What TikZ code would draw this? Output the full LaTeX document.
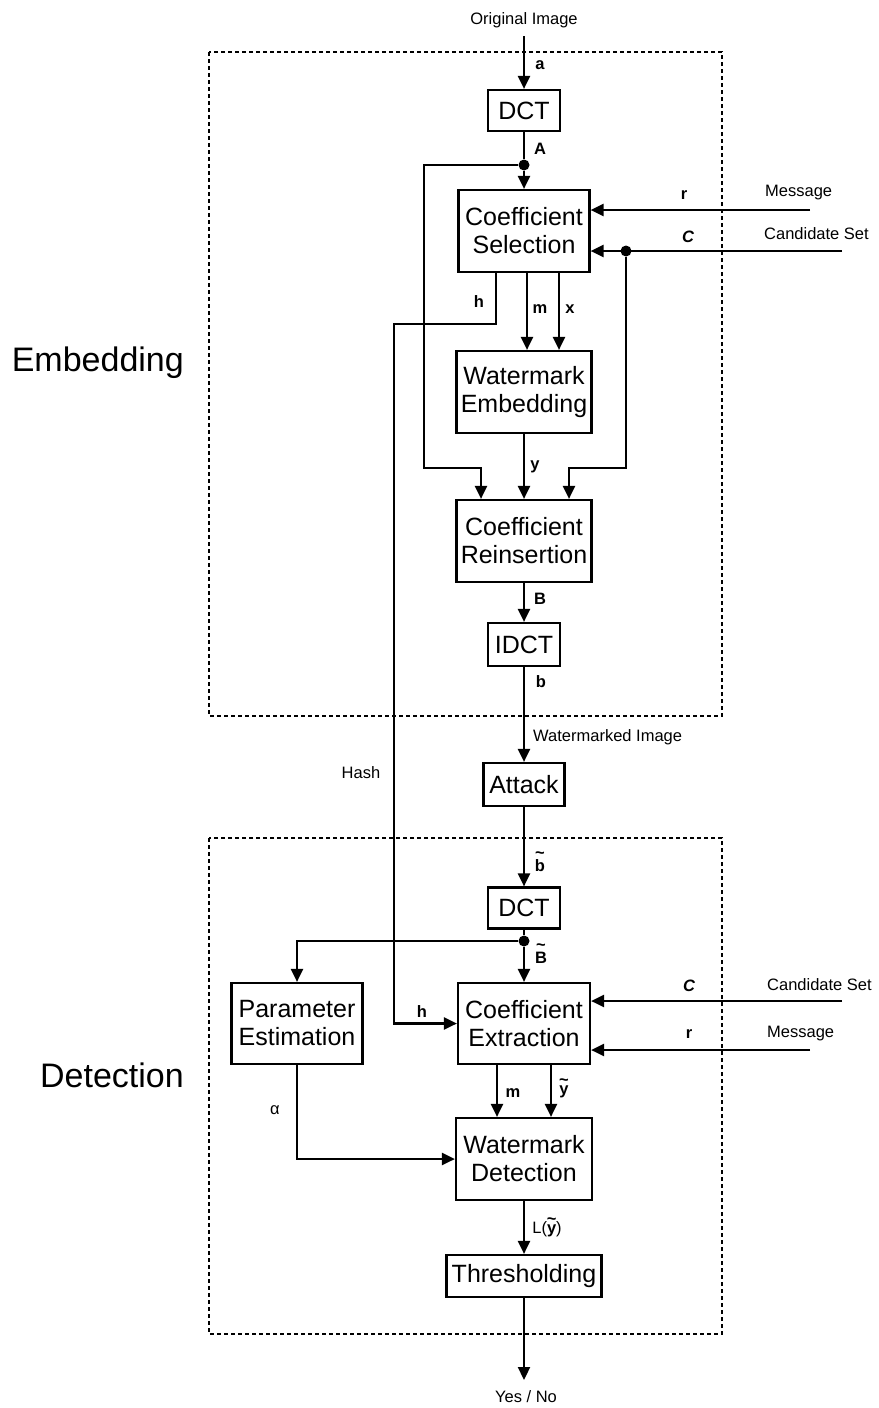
\documentclass[tikz,border=0pt]{standalone}
\usepackage{fontspec}
\setmainfont{Liberation Sans}
\usetikzlibrary{arrows.meta}

% tilde set above a letter, raised by #1
\newcommand{\tld}[2][12.5pt]{\ooalign{#2\cr\hidewidth\raisebox{#1}{\textasciitilde}\hidewidth\cr}}

\tikzset{
  block/.style={draw, line width=2.2pt, rectangle, inner sep=0pt, align=center,
    font=\fontsize{25}{28}\selectfont},
  lbl/.style={font=\fontsize{16.5}{18}\selectfont\bfseries, inner sep=0pt},
  note/.style={font=\fontsize{16.5}{18}\selectfont, inner sep=0pt},
  title/.style={font=\fontsize{34}{36}\selectfont, inner sep=0pt, anchor=east},
  conn/.style={line width=2.2pt},
  arr/.style={conn, -{Triangle[length=13pt,width=12pt]}},
  frame/.style={line width=2pt, dash pattern=on 4pt off 3pt},
  dot/.style={circle, fill, inner sep=0pt, minimum size=11pt},
}

\begin{document}
\begin{tikzpicture}[x=1pt,y=-1pt]
    \useasboundingbox (0,0) rectangle (878,1408);

    % dashed frames and their titles
    \draw[frame] (209,52) rectangle (722,716);
    \draw[frame] (209,838) rectangle (722,1334);
    \node[title] (tEmb) at (184,363) {Embedding};
    \node[title] (tDet) at (184,1075) {Detection};

    % embedding chain
    \node[block, minimum width=72, minimum height=41] (dctA) at (524,110.5) {DCT};
    \node[block, minimum width=131, minimum height=82] (sel) at (524,231) {Coefficient\\Selection};
    \node[block, minimum width=135, minimum height=82] (emb) at (524,392) {Watermark\\Embedding};
    \node[block, minimum width=135, minimum height=82] (reins) at (524,541) {Coefficient\\Reinsertion};
    \node[block, minimum width=72, minimum height=43] (idct) at (524,644.5) {IDCT};
    \node[block, minimum width=81, minimum height=43] (attack) at (524,784.5) {Attack};

    % detection chain
    \node[block, minimum width=72, minimum height=41] (dctB) at (524,908) {DCT};
    \node[block, minimum width=131, minimum height=81] (param) at (297,1023.5) {Parameter\\Estimation};
    \node[block, minimum width=132, minimum height=81] (ext) at (524,1023.5) {Coefficient\\Extraction};
    \node[block, minimum width=136, minimum height=82] (det) at (524,1159) {Watermark\\Detection};
    \node[block, minimum width=155, minimum height=42] (thr) at (524,1276) {Thresholding};

    % junctions and free ends
    \node[dot] (jA) at (524,165) {};
    \node[dot] (jC) at (626,251) {};
    \node[dot] (jB) at (524,941) {};
    \coordinate (inA) at (524,36);
    \coordinate (msgA) at (810,210);
    \coordinate (candA) at (842,251);
    \coordinate (bA) at (424,468);
    \coordinate (bB) at (481,468);
    \coordinate (cR) at (569,468);
    \coordinate (hA) at (496,324);
    \coordinate (hB) at (394,324);
    \coordinate (candB) at (842,1001);
    \coordinate (msgB) at (810,1050);
    \coordinate (out) at (524,1380);

    % embedding connectors
    \draw[arr] (inA) -- (dctA);
    \draw[conn] (dctA) -- (jA);
    \draw[arr] (jA) -- (sel);
    \draw[arr] (msgA) -- (msgA -| sel.east);
    \draw[arr] (candA) -- (candA -| sel.east);
    \draw[arr] ([xshift=3pt]sel.south) -- ([xshift=3pt]emb.north);
    \draw[arr] ([xshift=35pt]sel.south) -- ([xshift=35pt]emb.north);
    \draw[arr] (jA) -| (bA) -- (bB) -- (bB |- reins.north);
    \draw[arr] (jC) |- (cR) -- (cR |- reins.north);
    \draw[arr] (emb) -- (reins);
    \draw[arr] (reins) -- (idct);
    \draw[arr] (idct) -- (attack);
    \draw[arr] (sel.south -| hA) -- (hA) -- (hB) |- (ext.west);

    % detection connectors
    \draw[arr] (attack) -- (dctB);
    \draw[conn] (dctB) -- (jB);
    \draw[arr] (jB) -- (ext);
    \draw[arr] (jB) -| (param.north);
    \draw[arr] (candB) -- (candB -| ext.east);
    \draw[arr] (msgB) -- (msgB -| ext.east);
    \draw[arr] ([xshift=-27pt]ext.south) -- ([xshift=-27pt]det.north);
    \draw[arr] ([xshift=27pt]ext.south) -- ([xshift=27pt]det.north);
    \draw[arr] (param.south) |- (det.west);
    \draw[arr] (det) -- (thr);
    \draw[arr] (thr) -- (out);

    % signal labels
    \node[lbl] (la) at (540,65) {a};
    \node[lbl] (lA) at (540,149) {A};
    \node[lbl] (lr) at (684,195) {r};
    \node[lbl] (lC) at (688,237) {\itshape C};
    \node[lbl] (lh) at (479,302) {h};
    \node[lbl] (lm) at (540,309) {m};
    \node[lbl] (lx) at (570,309) {x};
    \node[lbl] (ly) at (535,467) {y};
    \node[lbl] (lB) at (540,599) {B};
    \node[lbl] (lb) at (541,682) {b};
    \node[lbl, anchor=base] (lbt) at (540,871) {\tld{b}};
    \node[lbl, anchor=base] (lBt) at (541,963) {\tld{B}};
    \node[lbl] (lh2) at (422,1012) {h};
    \node[lbl] (lC2) at (689,986) {\itshape C};
    \node[lbl] (lr2) at (689,1034) {r};
    \node[lbl] (lm2) at (513,1093) {m};
    \node[lbl, anchor=base] (lyt) at (564,1094) {\tld[9pt]{y}};
    \node[note] (lal) at (275,1110) {α};
    \node[note, anchor=base] (lL) at (547,1233) {L(\textbf{\tld[9pt]{y}})};

    % inputs and outputs
    \node[note] (nOrig) at (524,20) {Original Image};
    \node[note, anchor=west] (nMsgA) at (765,193) {Message};
    \node[note, anchor=west] (nCandA) at (764,234) {Candidate Set};
    \node[note, anchor=west] (nWm) at (533,737) {Watermarked Image};
    \node[note] (nHash) at (361,773) {Hash};
    \node[note, anchor=west] (nCandB) at (767,985) {Candidate Set};
    \node[note, anchor=west] (nMsgB) at (767,1034) {Message};
    \node[note] (nOut) at (526,1397) {Yes / No};
\end{tikzpicture}
\end{document}
